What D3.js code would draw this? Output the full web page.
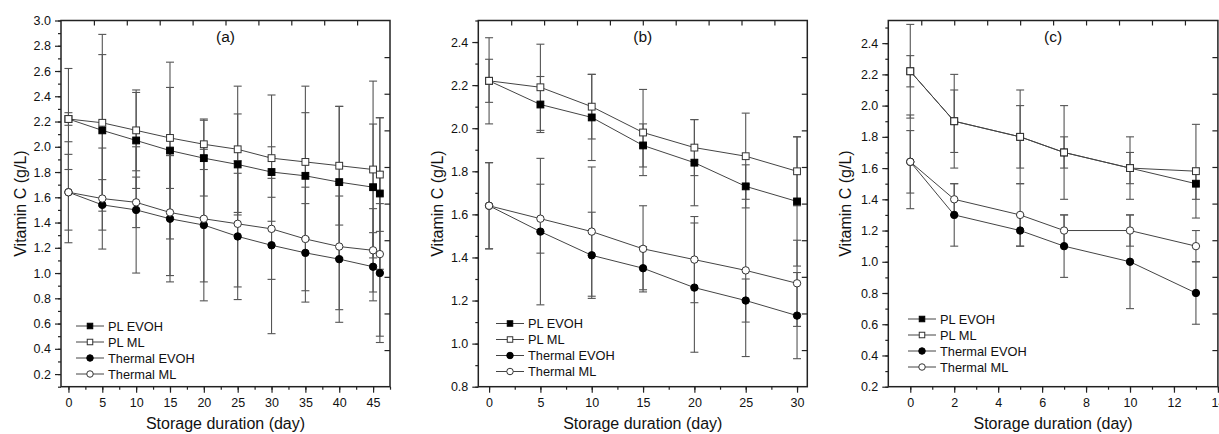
<!DOCTYPE html>
<html>
<head>
<meta charset="utf-8">
<script src="https://cdn.jsdelivr.net/npm/d3@7"></script>
<style>
  body { margin: 0; background: #fff; }
  svg text { font-family: "Liberation Sans", Arial, sans-serif; fill: #111; }
</style>
</head>
<body>
<svg id="chart" width="1219" height="434"></svg>
<script>
// ---- data (mean and +/- error) ----
const seriesNames = ["PL EVOH", "PL ML", "Thermal EVOH", "Thermal ML"];

// panel (a)
const daysA = [0, 5, 10, 15, 20, 25, 30, 35, 40, 45, 46];
const plEvohA = [2.22, 2.13, 2.05, 1.97, 1.91, 1.86, 1.80, 1.77, 1.72, 1.68, 1.63];
const plEvohErrA = [0.40, 0.60, 0.38, 0.70, 0.30, 0.40, 0.20, 0.50, 0.60, 0.50, 0.60];
const plMlA = [2.22, 2.19, 2.13, 2.07, 2.02, 1.98, 1.91, 1.88, 1.85, 1.82, 1.78];
const plMlErrA = [0.05, 0.70, 0.32, 0.40, 0.20, 0.50, 0.50, 0.60, 0.47, 0.70, 0.45];
const thEvohA = [1.64, 1.54, 1.50, 1.43, 1.38, 1.29, 1.22, 1.16, 1.11, 1.05, 1.00];
const thEvohErrA = [0.30, 0.20, 0.50, 0.50, 0.60, 0.50, 0.70, 0.39, 0.50, 0.27, 0.55];
const thMlA = [1.64, 1.59, 1.56, 1.48, 1.43, 1.39, 1.35, 1.27, 1.21, 1.18, 1.15];
const thMlErrA = [0.40, 0.40, 0.20, 0.50, 0.50, 0.50, 0.40, 0.41, 0.50, 0.33, 0.65];

// panel (b)
const daysB = [0, 5, 10, 15, 20, 25, 30];
const plEvohB = [2.22, 2.11, 2.05, 1.92, 1.84, 1.73, 1.66];
const plEvohErrB = [0.20, 0.13, 0.20, 0.10, 0.20, 0.10, 0.30];
const plMlB = [2.22, 2.19, 2.10, 1.98, 1.91, 1.87, 1.80];
const plMlErrB = [0.10, 0.20, 0.15, 0.20, 0.13, 0.20, 0.16];
const thEvohB = [1.64, 1.52, 1.41, 1.35, 1.26, 1.20, 1.13];
const thEvohErrB = [0.20, 0.34, 0.20, 0.10, 0.30, 0.10, 0.20];
const thMlB = [1.64, 1.58, 1.52, 1.44, 1.39, 1.34, 1.28];
const thMlErrB = [0.20, 0.16, 0.30, 0.20, 0.20, 0.40, 0.20];

// panel (c)
const daysC = [0, 2, 5, 7, 10, 13];
const plEvohC = [2.22, 1.90, 1.80, 1.70, 1.60, 1.50];
const plEvohErrC = [0.30, 0.20, 0.20, 0.10, 0.10, 0.10];
const plMlC = [2.22, 1.90, 1.80, 1.70, 1.60, 1.58];
const plMlErrC = [0.10, 0.30, 0.30, 0.30, 0.20, 0.30];
const thEvohC = [1.64, 1.30, 1.20, 1.10, 1.00, 0.80];
const thEvohErrC = [0.30, 0.20, 0.10, 0.20, 0.30, 0.20];
const thMlC = [1.64, 1.40, 1.30, 1.20, 1.20, 1.10];
const thMlErrC = [0.20, 0.10, 0.20, 0.10, 0.10, 0.10];

// tick values
const yTicksA = d3.range(1, 16).map(i => +(i * 0.2).toFixed(1));
const yTicksB = d3.range(4, 13).map(i => +(i * 0.2).toFixed(1));
const yTicksC = d3.range(1, 13).map(i => +(i * 0.2).toFixed(1));
const xTicksA = [0, 5, 10, 15, 20, 25, 30, 35, 40, 45];
const xTicksB = [0, 5, 10, 15, 20, 25, 30];
const xTicksC = [0, 2, 4, 6, 8, 10, 12, 14];

// marker style for each series: [shape, filled]
const markers = [["square", true], ["square", false], ["circle", true], ["circle", false]];

const panels = [
  { name: "(a)", days: daysA, vals: [plEvohA, plMlA, thEvohA, thMlA], errs: [plEvohErrA, plMlErrA, thEvohErrA, thMlErrA],
    left: 61, right: 390, xDomain: [-1.1, 47.5], yDomain: [0.1, 3.0],
    yTicks: yTicksA, yMinor: d3.range(1, 31).map(i => i / 10), xTicks: xTicksA, xMinor: d3.range(0, 20).map(i => i * 2.5),
    titleX: 20, legendX: 76, legendY: 326 },
  { name: "(b)", days: daysB, vals: [plEvohB, plMlB, thEvohB, thMlB], errs: [plEvohErrB, plMlErrB, thEvohErrB, thMlErrB],
    left: 478.3, right: 807.3, xDomain: [-1.05, 31], yDomain: [0.8, 2.5],
    yTicks: yTicksB, yMinor: d3.range(8, 26).map(i => i / 10), xTicks: xTicksB, xMinor: d3.range(0, 13).map(i => i * 2.5),
    titleX: 437, legendX: 496, legendY: 323.5 },
  { name: "(c)", days: daysC, vals: [plEvohC, plMlC, thEvohC, thMlC], errs: [plEvohErrC, plMlErrC, thEvohErrC, thMlErrC],
    left: 888.3, right: 1217.9, xDomain: [-1, 14], yDomain: [0.2, 2.545],
    yTicks: yTicksC, yMinor: d3.range(2, 26).map(i => i / 10), xTicks: xTicksC, xMinor: d3.range(0, 15),
    titleX: 845, legendX: 908, legendY: 319 }
];

const plotTop = 20.5, plotBottom = 386.7;
const svg = d3.select("#chart");

function drawMarker(g, shape, filled, cx, cy, size) {
  if (shape === "square") {
    g.append("rect")
      .attr("x", cx - size / 2).attr("y", cy - size / 2)
      .attr("width", size).attr("height", size)
      .attr("fill", filled ? "#000" : "#fff")
      .attr("stroke", filled ? "#000" : "#333").attr("stroke-width", 1);
  } else {
    g.append("circle")
      .attr("cx", cx).attr("cy", cy).attr("r", size / 2)
      .attr("fill", filled ? "#000" : "#fff")
      .attr("stroke", filled ? "#000" : "#333").attr("stroke-width", 1);
  }
}

panels.forEach(p => {
  const x = d3.scaleLinear().domain(p.xDomain).range([p.left, p.right]);
  const y = d3.scaleLinear().domain(p.yDomain).range([plotBottom, plotTop]);
  const g = svg.append("g");

  // minor ticks on the left and bottom
  g.append("g").attr("transform", `translate(${p.left},0)`)
    .call(d3.axisLeft(y).tickValues(p.yMinor).tickSize(3).tickFormat(""))
    .call(a => a.select(".domain").remove());
  g.append("g").attr("transform", `translate(0,${plotBottom})`)
    .call(d3.axisBottom(x).tickValues(p.xMinor).tickSize(3).tickFormat(""))
    .call(a => a.select(".domain").remove());

  // major ticks with labels
  g.append("g").attr("transform", `translate(${p.left},0)`)
    .call(d3.axisLeft(y).tickValues(p.yTicks).tickSize(6).tickPadding(4).tickFormat(d3.format(".1f")))
    .call(a => a.select(".domain").remove())
    .call(a => a.selectAll("text").style("font-size", "12.5px"));
  g.append("g").attr("transform", `translate(0,${plotBottom})`)
    .call(d3.axisBottom(x).tickValues(p.xTicks).tickSize(6).tickPadding(5).tickFormat(d3.format("d")))
    .call(a => a.select(".domain").remove())
    .call(a => a.selectAll("text").style("font-size", "12.5px"));

  // mirror ticks (inward) on top and right, from the hidden second layer
  const mirrorX = d3.scaleLinear().domain([0, 10]).range([p.left, p.right]);
  const mirrorY = d3.scaleLinear().domain([0, 10]).range([plotBottom, plotTop]);
  g.append("g").attr("transform", `translate(0,${plotTop})`)
    .call(d3.axisTop(mirrorX).tickValues(d3.range(1, 10)).tickSize(-5).tickFormat(""))
    .call(a => a.select(".domain").remove());
  g.append("g").attr("transform", `translate(${p.right},0)`)
    .call(d3.axisRight(mirrorY).tickValues(d3.range(1, 10)).tickSize(-5.5).tickFormat(""))
    .call(a => a.select(".domain").remove());

  g.selectAll(".tick line").attr("stroke", "#222").attr("stroke-width", 1.2);

  // frame
  g.append("rect")
    .attr("x", p.left).attr("y", plotTop)
    .attr("width", p.right - p.left).attr("height", plotBottom - plotTop)
    .attr("fill", "none").attr("stroke", "#222").attr("stroke-width", 1.5);

  // error bars
  const eg = g.append("g").attr("stroke", "#555").attr("stroke-width", 1.1);
  p.vals.forEach((vals, si) => {
    vals.forEach((v, i) => {
      const e = p.errs[si][i];
      const cx = x(p.days[i]);
      const y1 = y(v + e), y2 = y(v - e);
      eg.append("line").attr("x1", cx).attr("x2", cx).attr("y1", y1).attr("y2", y2);
      eg.append("line").attr("x1", cx - 4).attr("x2", cx + 4).attr("y1", y1).attr("y2", y1);
      eg.append("line").attr("x1", cx - 4).attr("x2", cx + 4).attr("y1", y2).attr("y2", y2);
    });
  });

  // connecting lines
  const line = d3.line().x((d, i) => x(p.days[i])).y(d => y(d));
  p.vals.forEach(vals => {
    g.append("path").datum(vals)
      .attr("d", line).attr("fill", "none")
      .attr("stroke", "#444").attr("stroke-width", 1);
  });

  // markers
  p.vals.forEach((vals, si) => {
    const [shape, filled] = markers[si];
    vals.forEach((v, i) => drawMarker(g, shape, filled, x(p.days[i]), y(v), shape === "square" ? 6.8 : 7.4));
  });

  // panel letter
  g.append("text")
    .attr("x", (p.left + p.right) / 2).attr("y", 42)
    .attr("text-anchor", "middle").style("font-size", "15.5px")
    .text(p.name);

  // axis titles
  g.append("text")
    .attr("transform", `translate(${p.titleX},${(plotTop + plotBottom) / 2}) rotate(-90)`)
    .attr("text-anchor", "middle").attr("dy", "0.35em").style("font-size", "16px")
    .text("Vitamin C (g/L)");
  g.append("text")
    .attr("x", (p.left + p.right) / 2).attr("y", 429)
    .attr("text-anchor", "middle").style("font-size", "16px")
    .text("Storage duration (day)");

  // legend
  seriesNames.forEach((name, si) => {
    const ly = p.legendY + si * 16;
    g.append("line")
      .attr("x1", p.legendX).attr("x2", p.legendX + 28)
      .attr("y1", ly).attr("y2", ly)
      .attr("stroke", "#444").attr("stroke-width", 1);
    const [shape, filled] = markers[si];
    drawMarker(g, shape, filled, p.legendX + 14, ly, shape === "square" ? 5.5 : 6.5);
    g.append("text")
      .attr("x", p.legendX + 32).attr("y", ly).attr("dy", "0.36em")
      .style("font-size", "12.8px")
      .text(name);
  });
});
</script>
</body>
</html>
